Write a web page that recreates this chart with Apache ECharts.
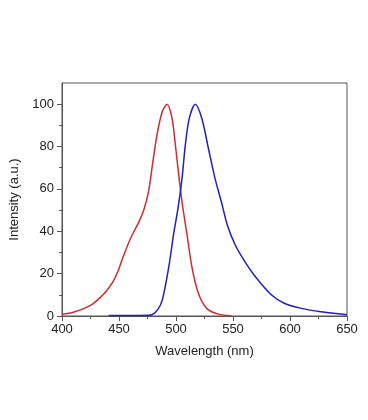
<!DOCTYPE html>
<html>
<head>
<meta charset="utf-8">
<script src="https://cdn.jsdelivr.net/npm/echarts@6/dist/echarts.min.js"></script>
<style>html,body{margin:0;padding:0;background:#fff;}#c{width:368px;height:420px;}</style>
</head>
<body>
<div id="c"></div>
<script>
var redX = [400, 410, 425, 436, 440, 445, 449, 453, 460, 468, 472, 476, 479.5, 483.5, 488, 492.2, 496.5, 499.4, 502.3, 505.5, 509.5, 513.9, 519.6, 526.9, 537, 548.6];
var redY = [0.8, 1.8, 5, 10, 12.5, 16.5, 21, 27, 36.5, 45, 50.5, 59, 72, 86, 96.5, 100, 93.4, 81, 67, 53, 39, 23.3, 10.7, 3.6, 0.9, 0.1];
var blueX = [441, 460, 475, 479, 484, 488, 493.7, 498, 501.8, 505.3, 508.2, 511.7, 516.9, 522.6, 528.4, 534.2, 540, 545, 552, 560, 569, 583.6, 595, 610, 627, 647, 650];
var blueY = [0.2, 0.2, 0.3, 0.6, 3, 7.6, 23.3, 39, 51, 65, 80.8, 93.4, 100, 93.4, 79.2, 65, 53.5, 43, 33.5, 26, 19, 10, 6, 3.6, 2, 0.8, 0.6];
var xTicks = [400, 450, 500, 550, 600, 650];
var yTicks = [0, 20, 40, 60, 80, 100];
var yMinorTicks = [10, 30, 50, 70, 90];

function pairs(xs, ys) { return xs.map(function (x, i) { return [x, ys[i]]; }); }

var font = 'Liberation Sans, Arial, sans-serif';
var axisColor = '#555';
var chart = echarts.init(document.getElementById('c'));
chart.setOption({
  animation: false,
  backgroundColor: '#fff',
  grid: { left: 58, right: 21, top: 83, bottom: 104, show: true, borderColor: axisColor, borderWidth: 1, backgroundColor: 'transparent' },
  xAxis: {
    type: 'value', min: xTicks[0], max: xTicks[xTicks.length - 1], interval: 50,
    name: 'Wavelength (nm)', nameLocation: 'middle', nameGap: 29,
    nameTextStyle: { fontFamily: font, fontSize: 13, color: '#222' },
    axisLine: { lineStyle: { color: axisColor, width: 1 } },
    axisTick: { inside: false, length: 5, lineStyle: { color: axisColor } },
    minorTick: { show: true, splitNumber: 2, length: 3, lineStyle: { color: axisColor } },
    axisLabel: { fontFamily: font, fontSize: 13, color: '#222', margin: 7 },
    splitLine: { show: false }
  },
  yAxis: [{
    type: 'value', min: 0, max: 110, interval: 20,
    name: 'Intensity (a.u.)', nameLocation: 'middle', nameGap: 41,
    nameTextStyle: { fontFamily: font, fontSize: 13, color: '#222' },
    axisLine: { show: true, lineStyle: { color: axisColor, width: 1 } },
    axisTick: { show: true, inside: false, length: 5, customValues: yTicks, lineStyle: { color: axisColor } },
    axisLabel: { fontFamily: font, fontSize: 13, color: '#222', margin: 8, customValues: yTicks },
    splitLine: { show: false }
  }, {
    type: 'value', min: 0, max: 110, position: 'left', offset: 0,
    axisLine: { show: false },
    axisTick: { show: true, inside: false, length: 3, customValues: yMinorTicks, lineStyle: { color: axisColor } },
    axisLabel: { show: false },
    splitLine: { show: false }
  }],
  series: [
    { type: 'line', data: pairs(redX, redY), smooth: 0.3, showSymbol: false,
      lineStyle: { color: '#d42a2a', width: 1.5 } },
    { type: 'line', data: pairs(blueX, blueY), smooth: 0.3, showSymbol: false,
      lineStyle: { color: '#1f1fc4', width: 1.5 } }
  ]
});
</script>
</body>
</html>
